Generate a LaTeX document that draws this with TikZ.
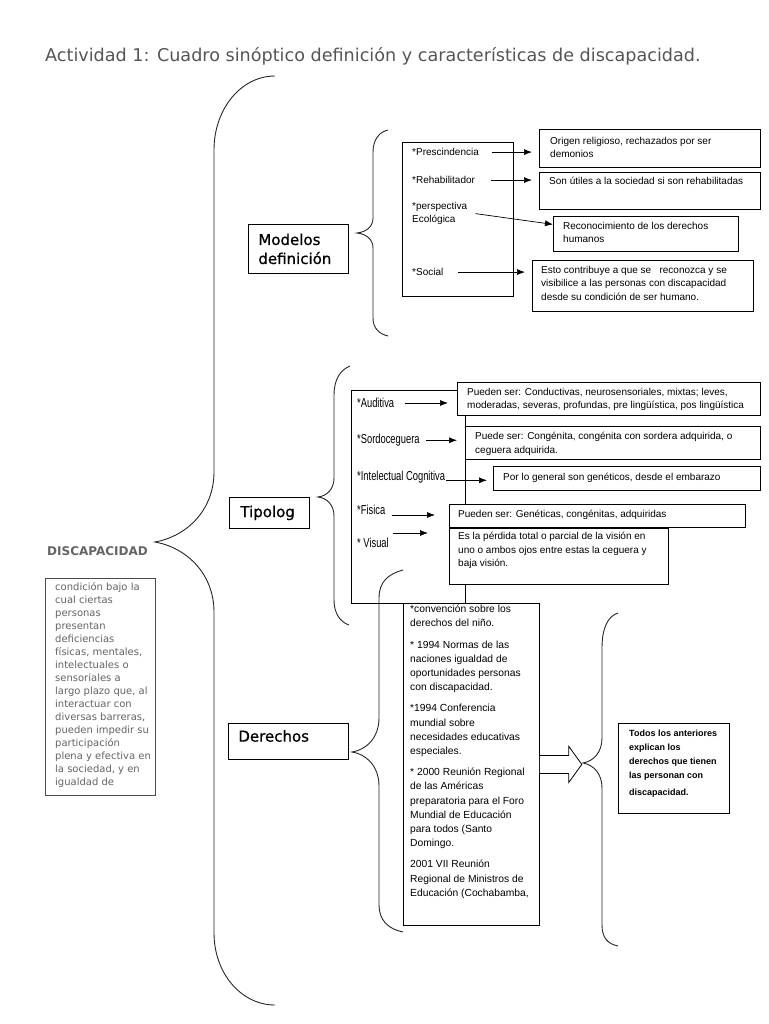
\documentclass[tikz,border=0pt]{standalone}
\usepackage{fontspec}
\setmainfont{Liberation Sans}
\newfontfamily\dejavu{DejaVu Sans}
\newfontfamily\dejavuhead[FakeBold=0.7]{DejaVu Sans}
\newfontfamily\narrowfont[FakeStretch=0.72]{Liberation Sans}
\usepackage{xcolor}
\usepackage{tikz}
\usetikzlibrary{positioning,arrows.meta}

\definecolor{titlegray}{RGB}{85,85,85}
\definecolor{textgray}{RGB}{100,100,100}

\begin{document}
\begin{tikzpicture}[x=1pt, y=-1pt,
        box/.style={draw, line width=0.8pt, fill=white, anchor=north west, inner sep=0pt},
        txt/.style={anchor=north west, inner sep=0pt, align=left,
                font=\fontsize{10}{13.5}\selectfont},
        item/.style={anchor=mid west, inner sep=0pt, font=\fontsize{10}{12}\selectfont},
        tipo/.style={anchor=mid west, inner sep=0pt, font=\narrowfont\fontsize{13}{13}\selectfont},
        head/.style={draw, line width=0.8pt, anchor=north west, inner ysep=0pt, align=left,
                font=\dejavuhead\fontsize{15}{19}\selectfont},
        llave/.style={line width=0.9pt, black!85},
        flecha/.style={-{Latex[length=8pt,width=6pt]}, line width=0.7pt}]

        \useasboundingbox (0,0) rectangle (768,1024);

        \node[anchor=base west, inner sep=0pt, text=titlegray,
                font=\dejavu\fontsize{17.6}{20}\selectfont]
                (titulo) at (45,62) {Actividad 1: Cuadro sinóptico definición y características de discapacidad.};

        % llave principal
        \draw[llave] (275,76) .. controls (241,76) and (214,109) .. (214,150) -- (214,472)
                .. controls (214,509) and (188,536) .. (155,542)
                .. controls (188,548) and (214,575) .. (214,612) -- (214,933)
                .. controls (214,973) and (241,1005) .. (275,1005);

        \node[anchor=mid west, inner sep=0pt, text=textgray,
                font=\dejavu\bfseries\fontsize{12}{12}\selectfont] (disc) at (47,553) {DISCAPACIDAD};
        \node[box, draw=black!70, minimum width=110pt, minimum height=217pt] (defbox) at (45,578) {};
        \node[txt, text=textgray, font=\dejavu\fontsize{10}{13}\selectfont] (deftxt) at (55,582)
                {condición bajo la\\cual ciertas\\personas\\presentan\\deficiencias\\físicas, mentales,\\
                intelectuales o\\sensoriales a\\largo plazo que, al\\interactuar con\\diversas barreras,\\
                pueden impedir su\\participación\\plena y efectiva en\\la sociedad, y en\\igualdad de};

        % modelos
        \node[head, minimum width=100pt, minimum height=49pt, inner xsep=10pt, text width=80pt]
                (mod) at (248,224) {Modelos\\definición};
        \draw[llave] (388,130) .. controls (379,132) and (373,140) .. (373,152) -- (373,218)
                .. controls (373,227) and (366,232) .. (357,233)
                .. controls (366,234) and (373,239) .. (373,248) -- (373,318)
                .. controls (373,328) and (379,334) .. (388,336);

        \node[box, minimum width=111pt, minimum height=154pt] (modlist) at (402,142) {};
        \node[item] (pres) at (412,153) {*Prescindencia};
        \node[item] (rehab) at (412,181) {*Rehabilitador};
        \node[txt] (eco) at (412,202) {*perspectiva\\Ecológica};
        \node[item] (soc) at (412,273) {*Social};

        \node[box, minimum width=221pt, minimum height=38pt] (r1) at (539,129) {};
        \node[txt] (r1t) at (550,137) {Origen religioso, rechazados por ser\\demonios};
        \node[box, minimum width=221pt, minimum height=37pt] (r2) at (539,172) {};
        \node[item] (r2t) at (549,182) {Son útiles a la sociedad si son rehabilitadas};
        \node[box, minimum width=185pt, minimum height=35pt] (r3) at (553,216) {};
        \node[txt] (r3t) at (563,222) {Reconocimiento de los derechos\\humanos};
        \node[box, minimum width=221pt, minimum height=51pt] (r4) at (532,260) {};
        \node[txt] (r4t) at (541,266) {Esto contribuye a que se~~ reconozca y se\\
                visibilice a las personas con discapacidad\\desde su condición de ser humano.};

        \draw[flecha, shorten <=13pt, shorten >=7pt] (pres.east) -- (pres.east -| r1.west);
        \draw[flecha, shorten <=16pt, shorten >=7pt] (rehab.east) -- (rehab.east -| r2.west);
        \draw[flecha] ([xshift=8pt]eco.east) -- ([yshift=9.5pt]r3.west);
        \draw[flecha, shorten <=14pt, shorten >=7pt] (soc.east) -- (soc.east -| r4.west);

        % tipologia
        \node[head, minimum width=80pt, minimum height=31pt, inner xsep=11pt, text width=58pt]
                (tip) at (229,497) {Tipolog};
        \draw[llave] (350,366) .. controls (340,370) and (334,380) .. (334,395) -- (334,478)
                .. controls (334,489) and (327,496) .. (318,497)
                .. controls (327,498) and (334,505) .. (334,516) -- (334,600)
                .. controls (334,613) and (340,622) .. (349,625);

        \node[box, minimum width=114pt, minimum height=213pt] (tiplist) at (351,390) {};
        \node[tipo] (aud) at (357,405) {*Auditiva};
        \node[tipo] (sor) at (357,441) {*Sordoceguera};
        \node[tipo] (int) at (357,478) {*Intelectual Cognitiva};
        \node[tipo] (fis) at (357,512) {*Fisica};
        \node[tipo] (vis) at (357,545) {* Visual};

        \node[box, minimum width=303pt, minimum height=33pt] (p1) at (457,382) {};
        \node[txt] (p1t) at (467,388) {Pueden ser: Conductivas, neurosensoriales, mixtas; leves,\\
                moderadas, severas, profundas, pre lingüística, pos lingüística};
        \node[box, minimum width=295pt, minimum height=33pt] (p2) at (465,426) {};
        \node[txt] (p2t) at (475,432) {Puede ser: Congénita, congénita con sordera adquirida, o\\ceguera adquirida.};
        \node[box, minimum width=267pt, minimum height=24pt] (p3) at (493,466) {};
        \node[item] (p3t) at (503,478) {Por lo general son genéticos, desde el embarazo};
        \node[box, minimum width=296pt, minimum height=23pt] (p4) at (449,504) {};
        \node[item] (p4t) at (458,515) {Pueden ser: Genéticas, congénitas, adquiridas};
        \node[box, minimum width=219pt, minimum height=56pt,
                below right=0pt and 0pt of p4.south west] (p5) {};
        \node[txt] (p5t) at (458,532) {Es la pérdida total o parcial de la visión en\\
                uno o ambos ojos entre estas la ceguera y\\baja visión.};

        \draw[flecha, shorten <=11pt, shorten >=9pt] (aud.east) -- (aud.east -| p1.west);
        \draw[flecha, shorten <=6pt, shorten >=8pt] (sor.east) -- (sor.east -| p2.west);
        \draw[flecha, shorten <=1pt, shorten >=6pt] ([yshift=-3pt]int.east) -- ([yshift=-3pt]int.east -| p3.west);
        \draw[flecha, shorten <=7pt, shorten >=14pt] ([yshift=-5pt]fis.east) -- ([yshift=-5pt]fis.east -| p4.west);
        \draw[flecha, shorten <=4pt, shorten >=21pt] ([yshift=10pt]vis.east) -- ([yshift=10pt]vis.east -| p5.west);

        % derechos
        \node[head, minimum width=120pt, minimum height=36pt, inner xsep=10pt, text width=100pt,
                text depth=11pt] (der) at (228,723) {Derechos};
        \draw[llave] (403,570) .. controls (388,574) and (379,582) .. (379,598) -- (379,718)
                .. controls (379,738) and (366,750) .. (352,752)
                .. controls (366,754) and (379,766) .. (379,786) -- (379,905)
                .. controls (379,920) and (388,929) .. (403,932);

        \node[box, minimum width=136pt, minimum height=322pt] (lista) at (403,603) {};
        \node[txt, font=\fontsize{10.3}{14.2}\selectfont] (listat) at (410,605)
                {*convención sobre los\\derechos del niño.\\[7pt]
                * 1994 Normas de las\\naciones igualdad de\\oportunidades personas\\con discapacidad.\\[7pt]
                *1994 Conferencia\\mundial sobre\\necesidades educativas\\especiales.\\[7pt]
                * 2000 Reunión Regional\\de las Américas\\preparatoria para el Foro\\Mundial de Educación\\
                para todos (Santo\\Domingo.\\[7pt]
                2001 VII Reunión\\Regional de Ministros de\\Educación (Cochabamba,};

        \draw[fill=white, line width=0.8pt] (lista.east) ++(0,-9) -- ++(29,0) -- ++(0,-9) -- ++(13,18)
                -- ++(-13,18) -- ++(0,-9) -- ++(-29,0);

        \draw[llave] (618,613) .. controls (608,616) and (602,628) .. (602,648) -- (602,738)
                .. controls (602,752) and (594,761) .. (583,763)
                .. controls (594,765) and (602,774) .. (602,788) -- (602,925)
                .. controls (602,938) and (608,944) .. (618,946);

        \node[box, minimum width=111pt, minimum height=90pt] (todos) at (618,723) {};
        \node[txt, font=\bfseries\fontsize{9}{14}\selectfont] (todost) at (629,729.5)
                {Todos los anteriores\\explican los\\derechos que tienen\\las personan con\\[3pt]discapacidad.};
\end{tikzpicture}
\end{document}
